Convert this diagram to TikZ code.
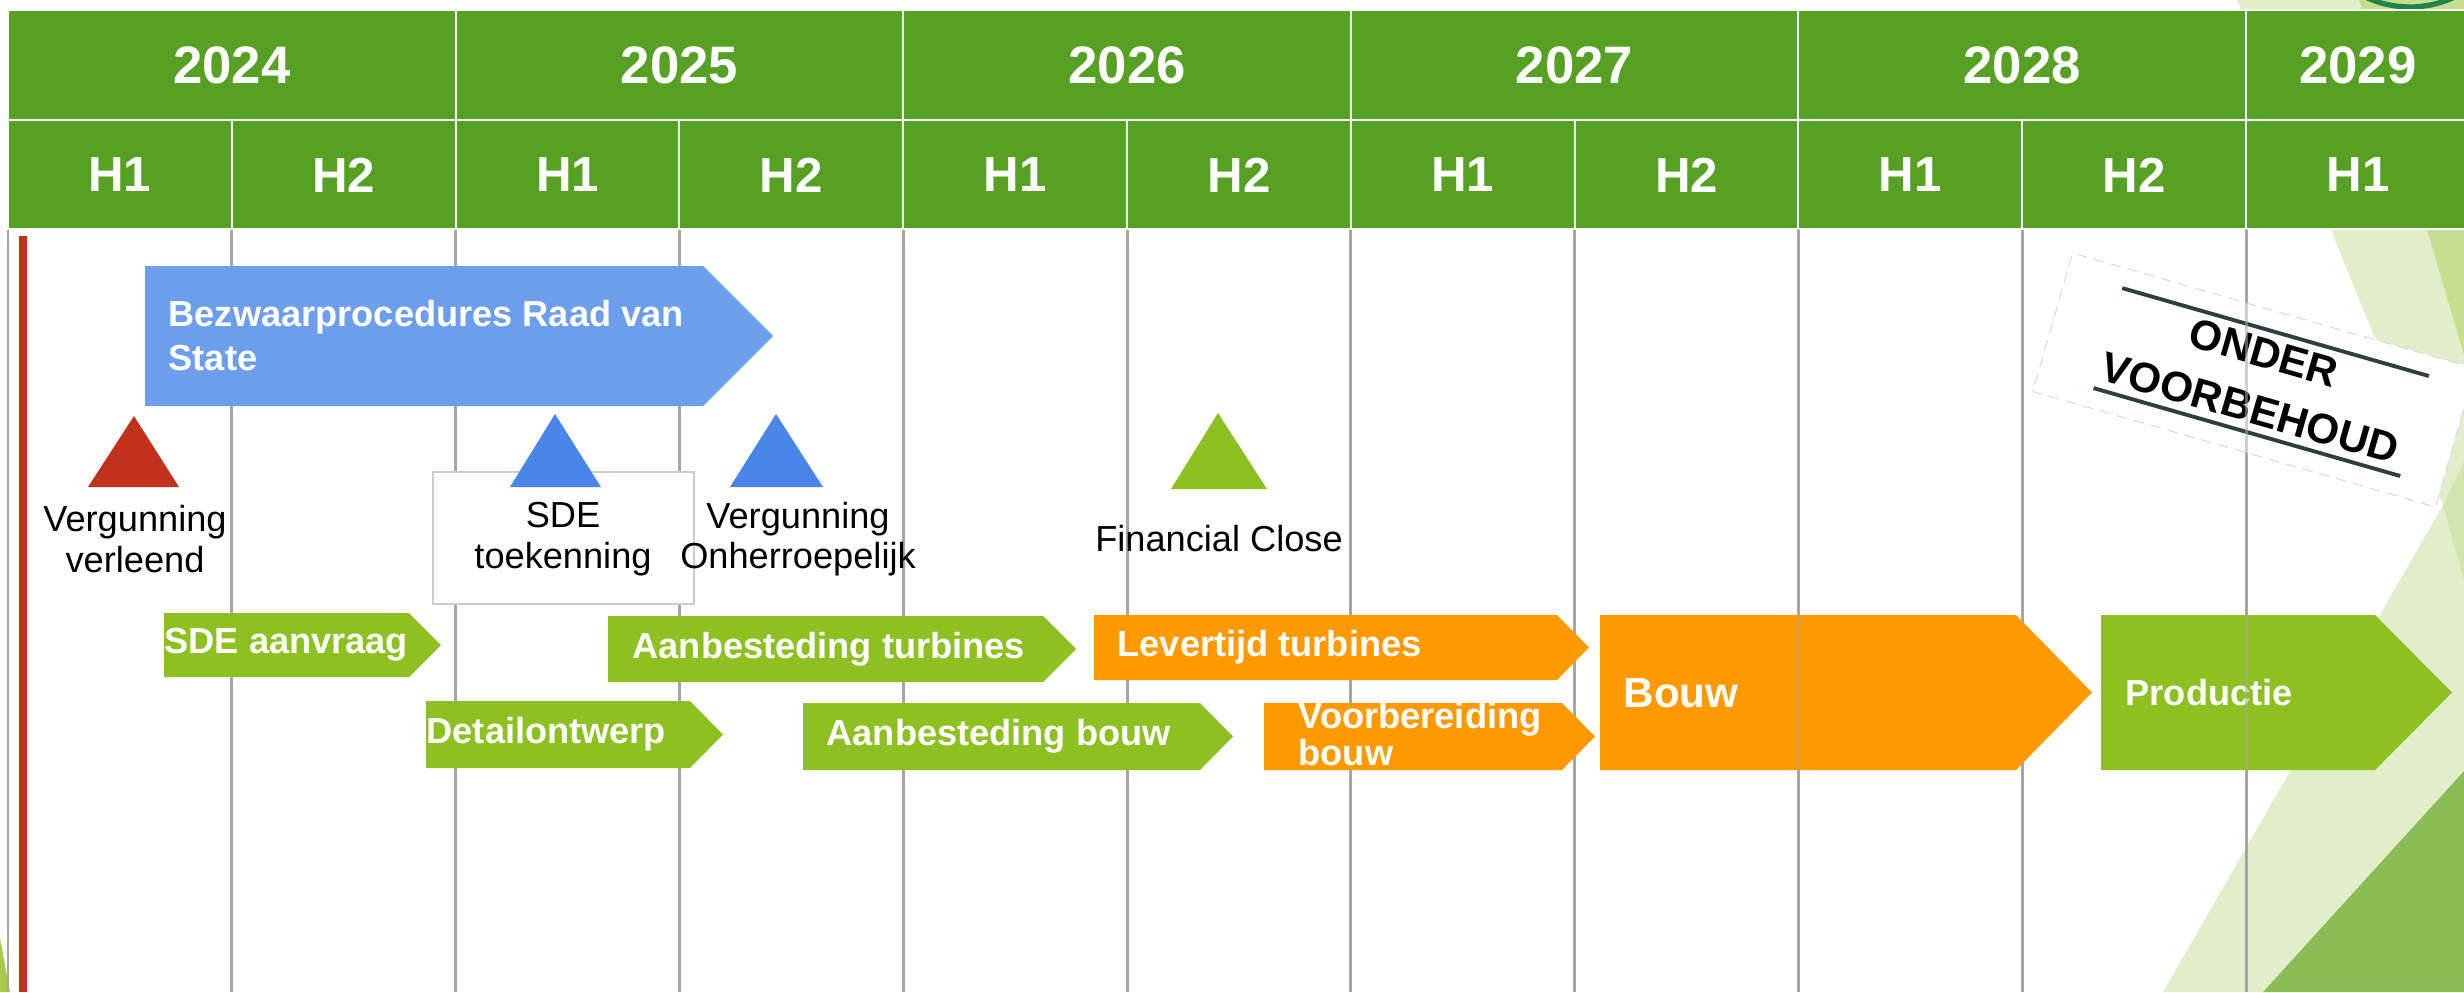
\documentclass[tikz,border=0pt]{standalone}
\usepackage{fontspec}
\setmainfont{Liberation Sans}
\definecolor{kopgroen}{RGB}{86,161,36}
\definecolor{fasegroen}{RGB}{141,192,33}
\definecolor{faseblauw}{RGB}{109,158,235}
\definecolor{mijlblauw}{RGB}{74,134,232}
\definecolor{mijlrood}{RGB}{192,50,28}
\definecolor{faseoranje}{RGB}{255,153,0}
\definecolor{lichtgroen}{RGB}{226,238,203}
\definecolor{middengroen}{RGB}{197,222,144}
\definecolor{vlakgroen}{RGB}{210,229,172}
\definecolor{donkergroen}{RGB}{139,189,86}
\definecolor{hoekgroen}{RGB}{163,204,76}
\definecolor{logogroen}{RGB}{30,132,73}
\definecolor{rasterlijn}{RGB}{166,166,166}
\definecolor{stempellijn}{RGB}{47,62,62}
\begin{document}
\begin{tikzpicture}[x=0.1mm,y=-0.1mm,
  kop/.style={fill=kopgroen,draw=white,line width=0.6pt},
  kopjaar/.style={text=white,font=\fontsize{15}{18}\selectfont\bfseries},
  kophalf/.style={text=white,font=\fontsize{14}{17}\selectfont\bfseries},
  raster/.style={draw=rasterlijn,line width=0.85pt},
  fasetekst/.style={anchor=west,inner sep=0pt,text=white,align=left,
    font=\fontsize{10.3}{12.5}\selectfont\bfseries},
  mijltekst/.style={inner sep=0pt,align=center,font=\fontsize{10.3}{11.5}\selectfont},
  stempeltekst/.style={inner sep=0pt,transform shape,font=\fontsize{12}{14}\selectfont\bfseries}]
\useasboundingbox (0,0) rectangle (2464,992);
\clip (0,0) rectangle (2464,992);
% achtergrond rechts
\fill [lichtgroen] (2237,0) -- (2443,505) -- (2163,992) -- (2464,992) -- (2464,0) -- cycle;
\fill [middengroen] (2359,0) -- (2464,0) -- (2464,355) -- cycle;
\fill [vlakgroen] (2443,505) -- (2464,461) -- (2464,581) -- cycle;
\fill [donkergroen] (2263,992) -- (2464,771) -- (2464,992) -- cycle;
\fill [hoekgroen] (0,938) -- (10,992) -- (0,992) -- cycle;
\draw [logogroen,line width=1.5pt] (2410,-97) circle [radius=104];
% raster
\foreach \i in {0,...,10}
  \draw [raster] ({8+223.8*\i},229) -- ({8+223.8*\i},992);
\draw [mijlrood,line width=2.3pt] (23,236) -- (23,992);
% kop
\foreach \j/\jaar/\breed in {0/2024/447.6,1/2025/447.6,2/2026/447.6,3/2027/447.6,4/2028/447.6,5/2029/223.8} {
  \draw [kop] ({8+447.6*\j},10) rectangle ({8+447.6*\j+\breed},120);
  \node [kopjaar] (jaar\jaar) at ({8+447.6*\j+\breed/2},65) {\jaar};
}
\foreach \i/\h in {0/H1,1/H2,2/H1,3/H2,4/H1,5/H2,6/H1,7/H2,8/H1,9/H2,10/H1} {
  \draw [kop] ({8+223.8*\i},120) rectangle ({8+223.8*(\i+1)},229);
  \node [kophalf] (half\i) at ({8+223.8*\i+111.9},175) {\h};
}
% fasen
\fill [faseblauw] (145,266) -- (703,266) -- (773,336) -- (703,406) -- (145,406) -- cycle;
\node [fasetekst] (bezwaar) at (168,336) {Bezwaarprocedures Raad van\\State};
\fill [fasegroen] (164,613) -- (409,613) -- (441,645) -- (409,677) -- (164,677) -- cycle;
\node [fasetekst] (sdeaanvraag) at (164,645) {SDE aanvraag};
\fill [fasegroen] (608,616) -- (1043,616) -- (1076,649) -- (1043,682) -- (608,682) -- cycle;
\node [fasetekst] (aanbturbines) at (632,649) {Aanbesteding turbines};
\fill [fasegroen] (426,701) -- (690,701) -- (723,734.5) -- (690,768) -- (426,768) -- cycle;
\node [fasetekst] (detail) at (426,734) {Detailontwerp};
\fill [fasegroen] (803,703) -- (1200,703) -- (1233,736.5) -- (1200,770) -- (803,770) -- cycle;
\node [fasetekst] (aanbbouw) at (826,736) {Aanbesteding bouw};
\fill [faseoranje] (1094,615) -- (1557,615) -- (1589,647.5) -- (1557,680) -- (1094,680) -- cycle;
\node [fasetekst] (levertijd) at (1117,647) {Levertijd turbines};
\fill [faseoranje] (1264,703) -- (1562,703) -- (1595,736.5) -- (1562,770) -- (1264,770) -- cycle;
\node [fasetekst,font=\fontsize{10.3}{7.4}\selectfont\bfseries] (voorbereiding) at (1298,734) {Voorbereiding\\bouw};
\fill [faseoranje] (1600,615) -- (2016,615) -- (2092,692.5) -- (2016,770) -- (1600,770) -- cycle;
\node [fasetekst,font=\fontsize{12}{14}\selectfont\bfseries] (bouw) at (1623,693) {Bouw};
\fill [fasegroen] (2101,615) -- (2375,615) -- (2452,692.5) -- (2375,770) -- (2101,770) -- cycle;
\node [fasetekst] (productie) at (2125,693) {Productie};
% mijlpalen
\draw [draw=black!20,fill=white,line width=0.4pt] (433,472) rectangle (694,604);
\fill [mijlrood] (134,416) -- (179,487) -- (88,487) -- cycle;
\fill [mijlblauw] (555,414) -- (601,487) -- (510,487) -- cycle;
\fill [mijlblauw] (776,414) -- (823,487) -- (730,487) -- cycle;
\fill [fasegroen] (1218,413) -- (1267,489) -- (1171,489) -- cycle;
\node [mijltekst] (verleend) at (135,539) {Vergunning\\verleend};
\node [mijltekst] (toekenning) at (563,539) {SDE\\toekenning};
\node [mijltekst] (onherroepelijk) at (798,539) {Vergunning\\Onherroepelijk};
\node [mijltekst] (financial) at (1219,539) {Financial Close};
% stempel
\begin{scope}[shift={(2254,380)},rotate=-16]
\node [draw=black!15,densely dashed,line width=0.3pt,fill=white,inner sep=0pt,
  minimum width=4.19cm,minimum height=1.44cm,transform shape] (stempel) at (0,0) {};
\draw [stempellijn,line width=1.1pt] (-152,-52) -- (167,-52);
\draw [stempellijn,line width=1.1pt] (-152,52) -- (167,52);
\node [stempeltekst] (onder) at (2,-29) {ONDER};
\node [stempeltekst] (voorbehoud) at (4,28) {VOORBEHOUD};
\end{scope}
\foreach \i in {8,10}
  \draw [raster,opacity=0.55] ({8+223.8*\i},229) -- ({8+223.8*\i},992);
\end{tikzpicture}
\end{document}
